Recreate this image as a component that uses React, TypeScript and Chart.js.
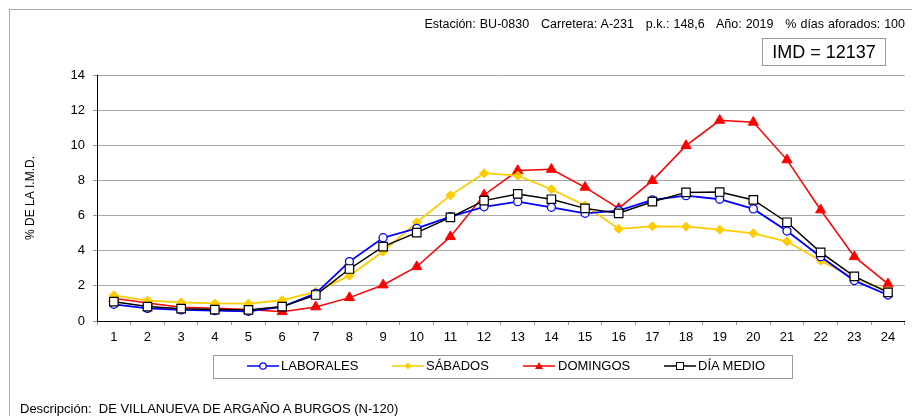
import React, { useEffect, useRef } from "react";
import { Chart, registerables } from "chart.js";

Chart.register(...registerables);

const hours = ["1","2","3","4","5","6","7","8","9","10","11","12","13","14","15","16","17","18","19","20","21","22","23","24"];
const laborales = [0.95,0.72,0.63,0.59,0.55,0.8,1.57,3.38,4.74,5.27,5.94,6.5,6.79,6.47,6.13,6.28,6.89,7.13,6.93,6.38,5.12,3.66,2.3,1.48];
const sabados = [1.46,1.16,1.06,1.0,0.99,1.18,1.67,2.58,3.95,5.62,7.15,8.41,8.27,7.5,6.57,5.24,5.39,5.37,5.2,4.99,4.52,3.43,2.43,1.71];
const domingos = [1.29,1.02,0.78,0.72,0.66,0.53,0.8,1.33,2.05,3.09,4.8,7.17,8.56,8.63,7.61,6.41,7.99,9.98,11.42,11.31,9.17,6.32,3.66,2.11];
const diaMedio = [1.1,0.82,0.7,0.65,0.63,0.82,1.48,2.96,4.23,5.03,5.9,6.85,7.23,6.93,6.41,6.13,6.79,7.32,7.34,6.89,5.62,3.91,2.54,1.63];
const yMin = 0;
const yMax = 14;
const yStep = 2;

const headerText = "Estación: BU-0830   Carretera: A-231   p.k.: 148,6   Año: 2019   % días aforados: 100";
const imdText = "IMD = 12137";
const descText = "Descripción:  DE VILLANUEVA DE ARGAÑO A BURGOS (N-120)";
const yTitle = "% DE LA I.M.D.";

const FONT = "'Liberation Sans', Arial, sans-serif";

function LegendMarker({ kind, color }: { kind: string; color: string }) {
  let marker: React.ReactNode = null;
  if (kind === "circle") marker = <circle cx={16} cy={6} r={3.2} fill="#fff" stroke={color} strokeWidth={1.2} />;
  if (kind === "diamond") marker = <polygon points="16,2.5 19.5,6 16,9.5 12.5,6" fill={color} />;
  if (kind === "triangle") marker = <polygon points="16,2 20,9 12,9" fill={color} />;
  if (kind === "square") marker = <rect x={12.5} y={2.5} width={7} height={7} fill="#fff" stroke={color} strokeWidth={1} />;
  return (
    <svg width={32} height={12} style={{ display: "block" }}>
      <line x1={0} y1={6} x2={32} y2={6} stroke={color} strokeWidth={1.5} />
      {marker}
    </svg>
  );
}

export default function App() {
  const ref = useRef<HTMLCanvasElement>(null);

  useEffect(() => {
    if (!ref.current) return;
    const chart = new Chart(ref.current, {
      type: "line",
      data: {
        labels: hours,
        datasets: [
          {
            label: "LABORALES",
            data: laborales,
            borderColor: "#0000ff",
            backgroundColor: "#ffffff",
            borderWidth: 1.8,
            pointStyle: "circle",
            pointRadius: 4,
            pointBorderWidth: 1.3,
            pointBorderColor: "#0000ff",
            pointBackgroundColor: "#ffffff",
            tension: 0,
            order: 2,
          },
          {
            label: "SÁBADOS",
            data: sabados,
            borderColor: "#ffcc00",
            backgroundColor: "#ffcc00",
            borderWidth: 1.8,
            pointStyle: "rectRot",
            pointRadius: 4.5,
            pointBorderWidth: 1,
            pointBorderColor: "#ffcc00",
            pointBackgroundColor: "#ffcc00",
            tension: 0,
            order: 3,
          },
          {
            label: "DOMINGOS",
            data: domingos,
            borderColor: "#ff0000",
            backgroundColor: "#ff0000",
            borderWidth: 1.5,
            pointStyle: "triangle",
            pointRadius: 5.8,
            pointBorderWidth: 1,
            pointBorderColor: "#ff0000",
            pointBackgroundColor: "#ff0000",
            tension: 0,
            order: 4,
          },
          {
            label: "DÍA MEDIO",
            data: diaMedio,
            borderColor: "#000000",
            backgroundColor: "#ffffff",
            borderWidth: 1.5,
            pointStyle: "rect",
            pointRadius: 6,
            pointBorderWidth: 1.2,
            pointBorderColor: "#000000",
            pointBackgroundColor: "#ffffff",
            tension: 0,
            order: 1,
          },
        ],
      },
      options: {
        animation: false,
        responsive: false,
        maintainAspectRatio: false,
        layout: { padding: { left: 22, right: 7, top: 75, bottom: 65 } },
        plugins: {
          legend: { display: false },
          tooltip: { enabled: false },
        },
        scales: {
          x: {
            type: "category",
            offset: true,
            afterFit: (s: any) => { s.height = 30; },
            grid: {
              display: true,
              drawOnChartArea: false,
              offset: true,
              tickLength: 4,
              tickColor: "#999999",
            },
            border: { display: true, color: "#000000", width: 1 },
            ticks: {
              color: "#000000",
              padding: 5,
              maxRotation: 0,
              autoSkip: false,
              font: { family: FONT, size: 13 },
            },
          },
          y: {
            min: yMin,
            max: yMax,
            afterFit: (s: any) => { s.width = 75; },
            title: {
              display: true,
              text: yTitle,
              color: "#000000",
              padding: { top: 1, bottom: 0 },
              font: { family: FONT, size: 12 },
            },
            grid: {
              color: "#a8a8a8",
              lineWidth: 1,
              tickLength: 4,
              tickColor: "#999999",
            },
            border: { display: true, color: "#000000", width: 1 },
            ticks: {
              stepSize: yStep,
              color: "#000000",
              padding: 8,
              font: { family: FONT, size: 13 },
            },
          },
        },
      },
    });
    return () => chart.destroy();
  }, []);

  const legendItems = [
    { label: "LABORALES", kind: "circle", color: "#0000ff", left: 247, text: 281 },
    { label: "SÁBADOS", kind: "diamond", color: "#ffcc00", left: 392, text: 426 },
    { label: "DOMINGOS", kind: "triangle", color: "#ff0000", left: 523, text: 558 },
    { label: "DÍA MEDIO", kind: "square", color: "#000000", left: 664, text: 698 },
  ];

  return (
    <div style={{ position: "fixed", left: 0, top: 0, width: 912, height: 416, background: "#fff", fontFamily: FONT, color: "#000", overflow: "hidden" }}>
      <div style={{ position: "absolute", left: 9, top: 9, width: 920, height: 420, borderLeft: "1px solid #aaaaaa", borderTop: "1px solid #aaaaaa" }} />
      <canvas ref={ref} width={912} height={416} style={{ position: "absolute", left: 0, top: 0, width: 912, height: 416 }} />
      <div style={{ position: "absolute", right: 7, top: 16, fontSize: 12.5, wordSpacing: 0.5, whiteSpace: "pre", lineHeight: "16px" }}>{headerText}</div>
      <div style={{ position: "absolute", left: 762, top: 38, width: 122, height: 26, border: "1px solid #999999", fontSize: 18, lineHeight: "26px", textAlign: "center", whiteSpace: "pre" }}>{imdText}</div>
      <div style={{ position: "absolute", left: 213, top: 355, width: 578, height: 22, border: "1px solid #999999" }} />
      {legendItems.map((it) => (
        <React.Fragment key={it.label}>
          <div style={{ position: "absolute", left: it.left, top: 360 }}>
            <LegendMarker kind={it.kind} color={it.color} />
          </div>
          <div style={{ position: "absolute", left: it.text, top: 358, fontSize: 13, lineHeight: "16px", whiteSpace: "pre" }}>{it.label}</div>
        </React.Fragment>
      ))}
      <div style={{ position: "absolute", left: 20, top: 401, fontSize: 13, lineHeight: "16px", whiteSpace: "pre" }}>{descText}</div>
    </div>
  );
}
